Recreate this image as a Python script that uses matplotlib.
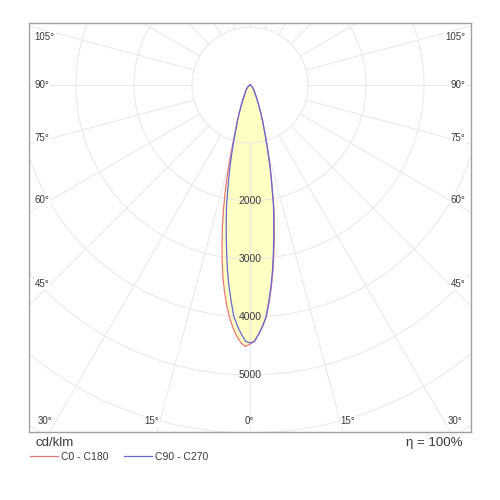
import numpy as np
import matplotlib.pyplot as plt
from matplotlib.lines import Line2D

plt.rcParams['font.family'] = ['Liberation Sans', 'DejaVu Sans']

# luminous intensity (cd/klm) per gamma angle
gamma = [0, 1, 2, 3, 4, 5, 6, 7, 8, 9, 10, 11, 12, 13, 14, 15, 16, 17, 18, 19,
         20, 21, 22, 23, 24, 25, 26, 27, 28, 29, 30, 35, 40, 45, 50, 60, 70, 80, 90]
c0 = [4470, 4420, 4300, 4170, 4010, 3770, 3510, 3240, 2950, 2680, 2410, 2160, 1860, 1630,
      1420, 1210, 1040, 890, 770, 680, 600, 520, 450, 400, 350, 310, 280, 250, 225, 200, 180,
      130, 95, 65, 45, 20, 8, 3, 0]
c180 = [4470, 4510, 4450, 4340, 4200, 4030, 3830, 3600, 3350, 3070, 2780, 2490, 2200, 1910,
        1630, 1360, 1120, 920, 780, 685, 600, 520, 450, 400, 350, 310, 280, 250, 225, 200, 180,
        130, 95, 65, 45, 20, 8, 3, 0]
c90 = [4450, 4420, 4300, 4160, 4000, 3740, 3480, 3200, 2900, 2620, 2360, 2120, 1840, 1610,
       1400, 1200, 1040, 890, 770, 680, 600, 520, 450, 400, 350, 310, 280, 250, 225, 200, 180,
       130, 95, 65, 45, 20, 8, 3, 0]
c270 = list(c90)

ring_values = [1000, 2000, 3000, 4000, 5000, 6000, 7000]
ring_labels = [2000, 3000, 4000, 5000]
grid_angles = list(range(0, 360, 15))

RED = '#e87878'
BLUE = '#6868d8'
GRID = '#e9e9e9'
TXT = '#3a3a3a'


def plane_xy(left, right):
    g = np.radians(gamma)
    l = np.asarray(left, float)
    r = np.asarray(right, float)
    x = np.concatenate([-l[::-1] * np.sin(g[::-1]), r * np.sin(g)])
    y = np.concatenate([-l[::-1] * np.cos(g[::-1]), -r * np.cos(g)])
    return x, y


fig = plt.figure(figsize=(5, 5), dpi=100)
ax = fig.add_axes([29 / 500, 68 / 500, 442 / 500, 409 / 500])

x_a, y_a = plane_xy(c180, c0)
x_b, y_b = plane_xy(c270, c90)

ax.fill(x_a, y_a, color='#ffffc4', lw=0, zorder=1)
ax.fill(x_b, y_b, color='#ffffc4', lw=0, zorder=1)

# polar grid
t = np.linspace(0, 2 * np.pi, 400)
for rv in ring_values:
    ax.plot(rv * np.cos(t), rv * np.sin(t), color=GRID, lw=0.75, zorder=2)
for a in grid_angles:
    ar = np.radians(a)
    ax.plot([1000 * np.sin(ar), 9000 * np.sin(ar)],
            [-1000 * np.cos(ar), -9000 * np.cos(ar)], color=GRID, lw=0.75, zorder=2)

ax.plot(x_a, y_a, color=RED, lw=0.9, zorder=3)
ax.plot(x_b, y_b, color=BLUE, lw=0.9, zorder=3)

for rv in ring_labels:
    ax.text(0, -rv, str(rv), ha='center', va='center', fontsize=7.5, color=TXT, zorder=4)

ax.set_xlim(-3810, 3810)
ax.set_ylim(-5985, 1070)
ax.set_xticks([])
ax.set_yticks([])
for s in ax.spines.values():
    s.set_color('#a0a0a0')
    s.set_linewidth(1)

# angle labels along the frame
box = dict(facecolor='white', edgecolor='none', pad=0.6)
side = [('105°', 0.966), ('90°', 0.848), ('75°', 0.719), ('60°', 0.567), ('45°', 0.362)]
for lab, yf in side:
    ax.text(0.013, yf, lab, transform=ax.transAxes, ha='left', va='center',
            fontsize=7, color=TXT, bbox=box, zorder=5)
    ax.text(0.987, yf, lab, transform=ax.transAxes, ha='right', va='center',
            fontsize=7, color=TXT, bbox=box, zorder=5)
bottom = [('30°', 0.036), ('15°', 0.278), ('0°', 0.498), ('15°', 0.722), ('30°', 0.964)]
for lab, xf in bottom:
    ax.text(xf, 0.027, lab, transform=ax.transAxes, ha='center', va='center',
            fontsize=7, color=TXT, bbox=box, zorder=5)

fig.text(0.07, 0.114, 'cd/klm', ha='left', va='center', fontsize=9.5, color=TXT)
fig.text(0.926, 0.114, 'η = 100%', ha='right', va='center', fontsize=9.5, color=TXT)

handles = [Line2D([], [], color=RED, lw=0.9), Line2D([], [], color=BLUE, lw=0.9)]
fig.legend(handles, ['C0 - C180', 'C90 - C270'], loc='center left',
           bbox_to_anchor=(0.052, 0.086), ncol=2, frameon=False, fontsize=7.5,
           handlelength=2.7, handletextpad=0.3, columnspacing=1.4, borderaxespad=0,
           labelcolor=TXT)

fig.savefig('out.png', dpi=100, facecolor='white')
